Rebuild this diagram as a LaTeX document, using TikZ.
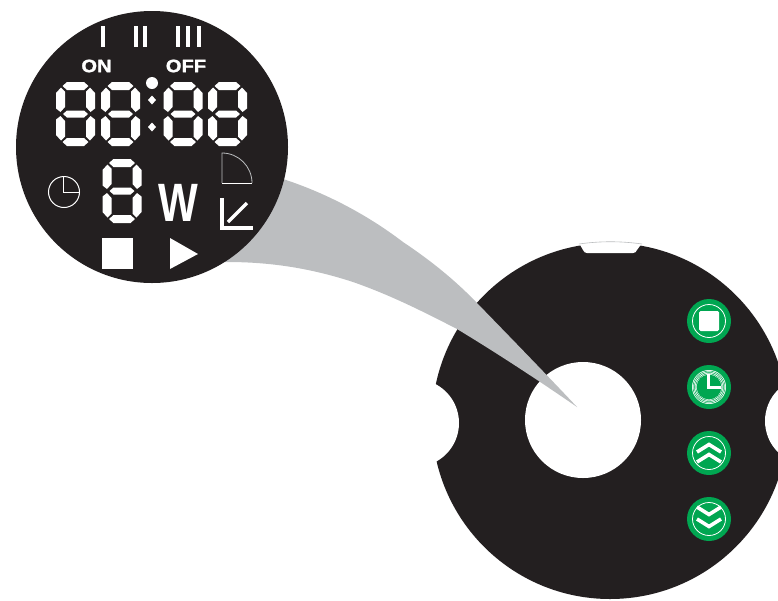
\documentclass[tikz,border=0pt]{standalone}
\usepackage{fontspec}
\setmainfont{Liberation Sans}
\newfontfamily\heavy[BoldFeatures={FakeBold=1.2}]{Liberation Sans}
\definecolor{ink}{HTML}{231F20}
\definecolor{wedge}{HTML}{BCBEC0}
\definecolor{btn}{HTML}{00A651}
\tikzset{
  seg/.style={fill=white,draw=none},
  ring/.style={draw=white,line width=0.8pt,fill=none},
  chev/.style={draw=white,line width=3.6pt,line cap=butt,line join=miter},
  bar/.style={fill=white,draw=none},
  lab/.style={text=white,font=\heavy\bfseries\fontsize{18}{18}\selectfont,inner sep=0pt},
}
\newcommand{\sevenseg}[2]{%
  \begin{scope}[shift={(#1,#2)}]
    \fill[seg] (6.5,4) -- (11,0) -- (28,0) -- (32.5,4) -- (28,8) -- (11,8) -- cycle;
    \fill[seg] (6.5,60) -- (11,56) -- (28,56) -- (32.5,60) -- (28,64) -- (11,64) -- cycle;
    \fill[seg] (7,32) -- (11,28.5) -- (28,28.5) -- (32,32) -- (28,35.5) -- (11,35.5) -- cycle;
    \fill[seg] (0,11) -- (5,5.5) -- (9,9.5) -- (9,25) -- (4.5,30) -- (0,26.5) -- cycle;
    \fill[seg] (39,11) -- (34,5.5) -- (30,9.5) -- (30,25) -- (34.5,30) -- (39,26.5) -- cycle;
    \fill[seg] (0,53) -- (5,58.5) -- (9,54.5) -- (9,39) -- (4.5,34) -- (0,37.5) -- cycle;
    \fill[seg] (39,53) -- (34,58.5) -- (30,54.5) -- (30,39) -- (34.5,34) -- (39,37.5) -- cycle;
  \end{scope}}
\begin{document}
\begin{tikzpicture}[x=1pt,y=-1pt]
\useasboundingbox (0,0) rectangle (778,600);
\begin{scope}
  \clip (0,0) rectangle (778,600);
  % main disc
  \fill[ink] (610,421) circle[radius=178];
  \fill[white] (415,423) circle[radius=44];
  \fill[white] (809,421) circle[radius=44];
  \fill[white] (583,420) circle[radius=58];
  % top notch
  \fill[white] (579,243) -- (583,250) .. controls (584,252) and (585,253) .. (587,253) -- (633,253) .. controls (635,253) and (636,252) .. (637,250) -- (642,243) -- (642,238) -- (579,238) -- cycle;
  \draw[wedge,line width=0.6pt] (579,244) .. controls (600,241) and (621,241) .. (642,244);
  % wedge
  \fill[wedge] (270,175) -- (283,179)
     .. controls (323,192) and (365,213) .. (403,242)
     .. controls (430,260) and (455,280) .. (477,303)
     .. controls (510,337) and (545,373) .. (577,407)
     .. controls (535,378) and (495,352) .. (457,329)
     .. controls (420,310) and (390,295) .. (353,282)
     .. controls (310,268) and (270,262) .. (227,262)
     -- (215,262) -- cycle;
  % buttons
  \foreach \n/\y in {a/321,b/387,c/453,d/519}
    \fill[btn] (709,\y) circle[radius=22];
  \draw[ring] (709,321) circle[radius=16.5];
  \fill[white,rounded corners=1.5pt] (699,311) rectangle (719,331);
  \fill[white] (709,387) circle[radius=17];
  \foreach \r in {16,14.6,13.2} \draw[btn,line width=0.5pt] (709,387) circle[radius=\r];
  \fill[btn] (709,387) circle[radius=12.4];
  \draw[white,line width=3pt,line join=miter] (708,374) -- (708,387.5) -- (721,387.5);
  \draw[ring] (709,453) circle[radius=16.5];
  \draw[chev] (697,452) -- (709,444.5) -- (721,452);
  \draw[chev] (697,462) -- (709,454.5) -- (721,462);
  \draw[ring] (709,519) circle[radius=16.5];
  \draw[chev] (697,507) -- (709,514.5) -- (721,507);
  \draw[chev] (697,519) -- (709,526.5) -- (721,519);
  % lens
  \fill[ink] (152,147) circle[radius=136];
\end{scope}
% tier marks
\fill[bar] (101,26) rectangle (105,47);
\fill[bar] (134,26) rectangle (138,47);
\fill[bar] (143,26) rectangle (147,47);
\fill[bar] (176,26) rectangle (180,47);
\fill[bar] (186,26) rectangle (190,47);
\fill[bar] (197,26) rectangle (201,47);
\node[lab] (on) at (96.5,66) {\scalebox{1.12}[1]{ON}};
\node[lab] (off) at (186,66) {\scalebox{1.12}[1]{OFF}};
% digits
\sevenseg{56}{82}
\sevenseg{101}{82}
\sevenseg{163.5}{82}
\sevenseg{208}{82}
\sevenseg{102.5}{159}
\fill[white] (152,83) circle[radius=6];
\fill[white] (152,95.5) -- (156,100) -- (152,104.5) -- (148,100) -- cycle;
\fill[white] (152,122.5) -- (156,127) -- (152,131.5) -- (148,127) -- cycle;
% clock
\draw[white,line width=1pt] (64,192) circle[radius=15.5];
\draw[white,line width=1.8pt] (63.5,177) -- (63.5,192.5) -- (79,192.5);
% W
\node[text=white,inner sep=0pt,font=\bfseries\fontsize{54}{54}\selectfont] (w) at (178.5,202.5) {\scalebox{.78}[1]{W}};
% quarter
\draw[wedge,line width=0.8pt] (222,183) -- (222,153) .. controls (238.5,153) and (252,166.5) .. (252,183);
\draw[white,line width=0.8pt] (222,183) -- (252,183);
% angle
\draw[white,line width=4pt,line join=miter] (222,198) -- (222,228) -- (252.5,228);
\draw[white,line width=3.4pt] (228,222) -- (247,203);
% stop, play
\fill[white] (102,238) rectangle (133,269);
\fill[white] (170,238) -- (198,254) -- (170,269) -- cycle;
\end{tikzpicture}
\end{document}
